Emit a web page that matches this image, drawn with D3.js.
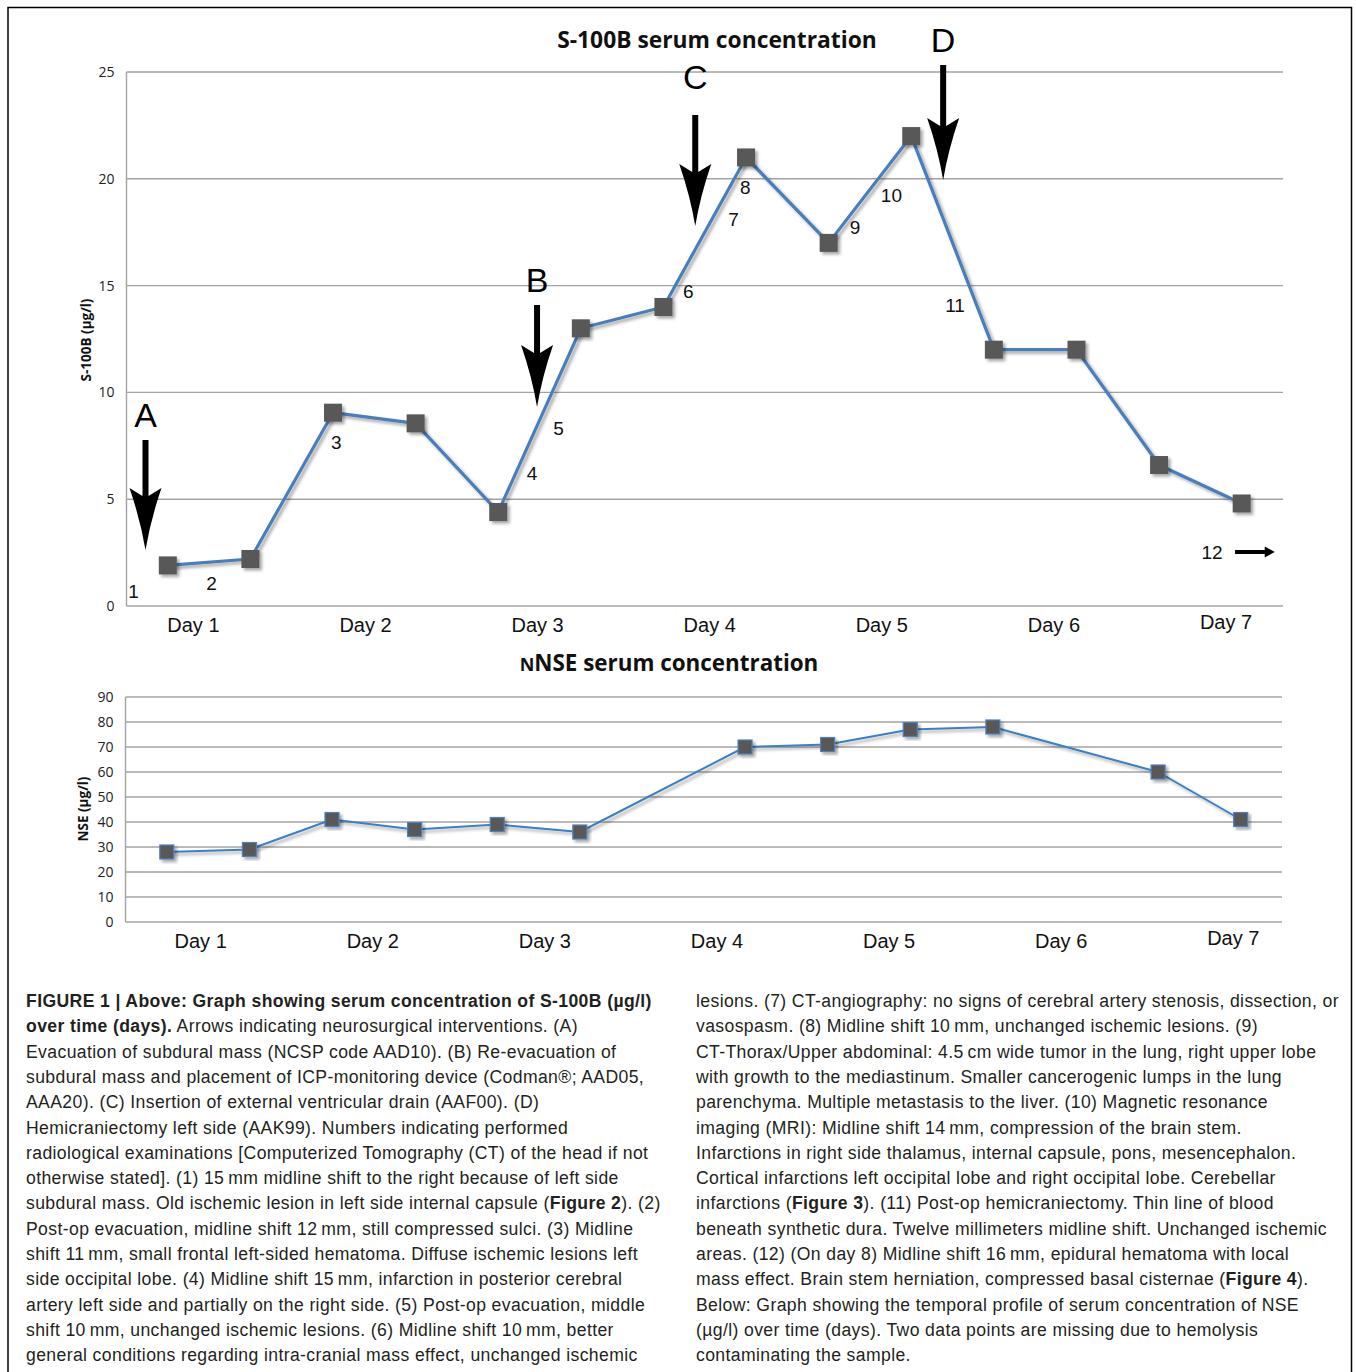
<!DOCTYPE html>
<html>
<head>
<meta charset="utf-8">
<script src="https://cdn.jsdelivr.net/npm/d3@7"></script>
<style>
  body { margin: 0; background: #fff; }
  svg { display: block; }
</style>
</head>
<body>
<div id="chart"></div>
<script>
// half-day sampling slots, 14 in total
const slots = d3.range(14);
const days = ['Day 1', 'Day 2', 'Day 3', 'Day 4', 'Day 5', 'Day 6', 'Day 7'];

const s100b = [1.9, 2.2, 9.05, 8.55, 4.4, 13.0, 14.0, 21.0, 17.0, 22.0, 12.0, 12.0, 6.6, 4.8];
const nse = [28, 29, 41, 37, 39, 36, null, 70, 71, 77, 78, null, 60, 41];

const s100bTicks = [0, 5, 10, 15, 20, 25];
const nseTicks = [0, 10, 20, 30, 40, 50, 60, 70, 80, 90];

// interventions: slot position (in slots), value range of the arrow, value of the letter baseline
const interventions = [
  { label: 'A', at: 0.23, from: 7.77, to: 2.62, text: 8.38 },
  { label: 'B', at: 4.97, from: 14.09, to: 9.32, text: 14.7 },
  { label: 'C', at: 6.885, from: 22.99, to: 17.79, text: 24.2 },
  { label: 'D', at: 9.886, from: 25.33, to: 19.94, text: 25.94 },
];

// radiological examinations, placed in slot / value units
const exams = [
  { n: '1', at: 0.085, v: 0.7 },
  { n: '2', at: 1.03, v: 1.08 },
  { n: '3', at: 2.54, v: 7.68 },
  { n: '4', at: 4.91, v: 6.23 },
  { n: '5', at: 5.23, v: 8.33 },
  { n: '6', at: 6.8, v: 14.75 },
  { n: '7', at: 7.35, v: 18.12 },
  { n: '8', at: 7.49, v: 19.62 },
  { n: '9', at: 8.82, v: 17.74 },
  { n: '10', at: 9.26, v: 19.24 },
  { n: '11', at: 10.03, v: 14.09 },
  { n: '12', at: 13.14, v: 2.53 },
];

const captionLeft = [
  [['FIGURE 1 | Above: Graph showing serum concentration of S-100B (\u00b5g/l)', true]],
  [['over time (days).', true], [' Arrows indicating neurosurgical interventions. (A)', false]],
  [['Evacuation of subdural mass (NCSP code AAD10). (B) Re-evacuation of', false]],
  [['subdural mass and placement of ICP-monitoring device (Codman\u00ae; AAD05,', false]],
  [['AAA20). (C) Insertion of external ventricular drain (AAF00). (D)', false]],
  [['Hemicraniectomy left side (AAK99). Numbers indicating performed', false]],
  [['radiological examinations [Computerized Tomography (CT) of the head if not', false]],
  [['otherwise stated]. (1) 15\u2009mm midline shift to the right because of left side', false]],
  [['subdural mass. Old ischemic lesion in left side internal capsule (', false], ['Figure 2', true], ['). (2)', false]],
  [['Post-op evacuation, midline shift 12\u2009mm, still compressed sulci. (3) Midline', false]],
  [['shift 11\u2009mm, small frontal left-sided hematoma. Diffuse ischemic lesions left', false]],
  [['side occipital lobe. (4) Midline shift 15\u2009mm, infarction in posterior cerebral', false]],
  [['artery left side and partially on the right side. (5) Post-op evacuation, middle', false]],
  [['shift 10\u2009mm, unchanged ischemic lesions. (6) Midline shift 10\u2009mm, better', false]],
  [['general conditions regarding intra-cranial mass effect, unchanged ischemic', false]],
];
const captionRight = [
  [['lesions. (7) CT-angiography: no signs of cerebral artery stenosis, dissection, or', false]],
  [['vasospasm. (8) Midline shift 10\u2009mm, unchanged ischemic lesions. (9)', false]],
  [['CT-Thorax/Upper abdominal: 4.5\u2009cm wide tumor in the lung, right upper lobe', false]],
  [['with growth to the mediastinum. Smaller cancerogenic lumps in the lung', false]],
  [['parenchyma. Multiple metastasis to the liver. (10) Magnetic resonance', false]],
  [['imaging (MRI): Midline shift 14\u2009mm, compression of the brain stem.', false]],
  [['Infarctions in right side thalamus, internal capsule, pons, mesencephalon.', false]],
  [['Cortical infarctions left occipital lobe and right occipital lobe. Cerebellar', false]],
  [['infarctions (', false], ['Figure 3', true], ['). (11) Post-op hemicraniectomy. Thin line of blood', false]],
  [['beneath synthetic dura. Twelve millimeters midline shift. Unchanged ischemic', false]],
  [['areas. (12) (On day 8) Midline shift 16\u2009mm, epidural hematoma with local', false]],
  [['mass effect. Brain stem herniation, compressed basal cisternae (', false], ['Figure 4', true], [').', false]],
  [['Below: Graph showing the temporal profile of serum concentration of NSE', false]],
  [['(\u00b5g/l) over time (days). Two data points are missing due to hemolysis', false]],
  [['contaminating the sample.', false]],
];

const W = 1356;
const H = 1372;
const chartFont = '"Open Sans", "Noto Sans", sans-serif';
const labelFont = '"Liberation Sans", Arial, sans-serif';

const svg = d3.select('#chart')
  .append('svg')
  .attr('width', W)
  .attr('height', H);

// drop shadow used by the lines and the markers
const defs = svg.append('defs');
defs.append('filter')
  .attr('id', 'shadow')
  .attr('x', '-30%').attr('y', '-30%')
  .attr('width', '160%').attr('height', '160%')
  .append('feDropShadow')
  .attr('dx', 2.5).attr('dy', 2.5)
  .attr('stdDeviation', 1.6)
  .attr('flood-color', '#000')
  .attr('flood-opacity', 0.35);

// outer frame of the figure
svg.append('path')
  .attr('d', `M8,${H} V7.5 H1351.5 V${H}`)
  .attr('fill', 'none')
  .attr('stroke', '#000')
  .attr('stroke-width', 1.5);

const drawPanel = ({ left, right, top, bottom, values, ticks, yMax, yTitle, dayRange, lineWidth, markerSize, markerStroke, lineColor }) => {
  const g = svg.append('g').attr('transform', `translate(${left}, ${top})`);
  const w = right - left;
  const h = bottom - top;

  const x = d3.scaleBand().domain(slots).range([0, w]);
  const cx = i => x(i) + x.bandwidth() / 2;
  const y = d3.scaleLinear().domain([0, yMax]).range([h, 0]);

  // gridlines
  g.append('g')
    .selectAll('line')
    .data(ticks)
    .enter()
    .append('line')
    .attr('x1', 0).attr('x2', w)
    .attr('y1', d => y(d)).attr('y2', d => y(d))
    .attr('stroke', '#a3a3a3')
    .attr('stroke-width', 1.4);

  g.append('line')
    .attr('x1', 0).attr('x2', 0)
    .attr('y1', 0).attr('y2', h)
    .attr('stroke', '#a3a3a3')
    .attr('stroke-width', 1.4);

  // value axis
  const yG = g.append('g').call(d3.axisLeft(y).tickValues(ticks).tickSize(0).tickPadding(12));
  yG.select('.domain').remove();
  yG.selectAll('text')
    .attr('font-family', chartFont)
    .attr('font-size', 14)
    .attr('fill', '#222');

  g.append('text')
    .attr('transform', `translate(${-left + yTitle.x}, ${yTitle.y - top}) rotate(-90)`)
    .attr('text-anchor', 'middle')
    .attr('font-family', chartFont)
    .attr('font-weight', 'bold')
    .attr('font-size', 13.5)
    .attr('fill', '#111')
    .text(yTitle.text);

  // day labels
  const day = d3.scalePoint().domain(days).range(dayRange.map(d => d * x.bandwidth()));
  g.append('g')
    .selectAll('text')
    .data(days)
    .enter()
    .append('text')
    .attr('x', d => day(d))
    .attr('y', (d, i) => h + (i === days.length - 1 ? 23 : 26))
    .attr('text-anchor', 'middle')
    .attr('font-family', labelFont)
    .attr('font-size', 20)
    .attr('fill', '#111')
    .text(d => d);

  const points = slots.filter(i => values[i] !== null);
  const line = d3.line().x(i => cx(i)).y(i => y(values[i]));

  g.append('path')
    .datum(points)
    .attr('d', line)
    .attr('fill', 'none')
    .attr('stroke', lineColor)
    .attr('stroke-width', lineWidth)
    .attr('stroke-linejoin', 'round')
    .attr('filter', 'url(#shadow)');

  g.append('g')
    .selectAll('rect')
    .data(points)
    .enter()
    .append('rect')
    .attr('x', i => cx(i) - markerSize / 2)
    .attr('y', i => y(values[i]) - markerSize / 2)
    .attr('width', markerSize)
    .attr('height', markerSize)
    .attr('fill', '#585858')
    .attr('stroke', markerStroke)
    .attr('stroke-width', markerStroke === 'none' ? 0 : 1.2)
    .attr('filter', 'url(#shadow)');

  return { g, x, y, w, h };
};

// upper panel: S-100B
const upper = drawPanel({
  left: 126.5, right: 1283, top: 72, bottom: 606,
  values: s100b, ticks: s100bTicks, yMax: 25,
  yTitle: { text: 'S-100B (\u00b5g/l)', x: 91, y: 340 },
  dayRange: [0.81, 13.31],
  lineWidth: 3.2, markerSize: 18, markerStroke: 'none', lineColor: '#4a7ebb',
});

svg.append('text')
  .attr('x', 717).attr('y', 48)
  .attr('text-anchor', 'middle')
  .attr('font-family', chartFont)
  .attr('font-weight', 'bold')
  .attr('font-size', 22.8)
  .attr('fill', '#111')
  .text('S-100B serum concentration');

// arrows marking neurosurgical interventions
const slotX = at => upper.x.bandwidth() * at;
const arrowG = upper.g.append('g');
interventions.forEach(d => {
  const ax = slotX(d.at);
  const y0 = upper.y(d.from);
  const y1 = upper.y(d.to);
  const head = 62;
  arrowG.append('path')
    .attr('d', `M${ax - 3},${y0} H${ax + 3} V${y1 - head + 8} L${ax + 16},${y1 - head} Q${ax + 5},${y1 - 30} ${ax},${y1} Q${ax - 5},${y1 - 30} ${ax - 16},${y1 - head} L${ax - 3},${y1 - head + 8} Z`)
    .attr('fill', '#000');
  arrowG.append('text')
    .attr('x', ax)
    .attr('y', upper.y(d.text))
    .attr('text-anchor', 'middle')
    .attr('font-family', labelFont)
    .attr('font-size', 34)
    .attr('fill', '#000')
    .text(d.label);
});

upper.g.append('g')
  .selectAll('text')
  .data(exams)
  .enter()
  .append('text')
  .attr('x', d => slotX(d.at))
  .attr('y', d => upper.y(d.v))
  .attr('dy', '0.36em')
  .attr('text-anchor', 'middle')
  .attr('font-family', labelFont)
  .attr('font-size', 19)
  .attr('fill', '#111')
  .text(d => d.n);

// small arrow after exam 12 (day 8)
{
  const ay = upper.y(2.53);
  const ax0 = slotX(13.42);
  const ax1 = slotX(13.9);
  upper.g.append('path')
    .attr('d', `M${ax0},${ay - 2} H${ax1 - 10} V${ay - 5.5} L${ax1},${ay} L${ax1 - 10},${ay + 5.5} V${ay + 2} H${ax0} Z`)
    .attr('fill', '#000');
}

// lower panel: NSE
drawPanel({
  left: 125.5, right: 1282, top: 697, bottom: 922,
  values: nse, ticks: nseTicks, yMax: 90,
  yTitle: { text: 'NSE (\u00b5g/l)', x: 88, y: 809 },
  dayRange: [0.91, 13.41],
  lineWidth: 2, markerSize: 14, markerStroke: '#4f81bd', lineColor: '#3a7fc4',
});

const nseTitle = svg.append('text')
  .attr('x', 669).attr('y', 671)
  .attr('text-anchor', 'middle')
  .attr('font-family', chartFont)
  .attr('font-weight', 'bold')
  .attr('font-size', 22.4)
  .attr('fill', '#111');
nseTitle.append('tspan').attr('font-size', 18).text('N');
nseTitle.append('tspan').text('NSE serum concentration');

// caption
const captionFont = '"Liberation Sans", Arial, sans-serif';
const drawCaption = (lines, x0) => {
  lines.forEach((parts, i) => {
    const t = svg.append('text')
      .attr('x', x0)
      .attr('y', 1007 + i * 25.3)
      .attr('font-family', captionFont)
      .attr('font-size', 17.6)
      .attr('letter-spacing', 0.38)
      .attr('fill', '#231f20');
    parts.forEach(([txt, bold]) => {
      t.append('tspan')
        .attr('font-weight', bold ? 'bold' : 'normal')
        .text(txt);
    });
  });
};
drawCaption(captionLeft, 26);
drawCaption(captionRight, 696);
</script>
</body>
</html>
